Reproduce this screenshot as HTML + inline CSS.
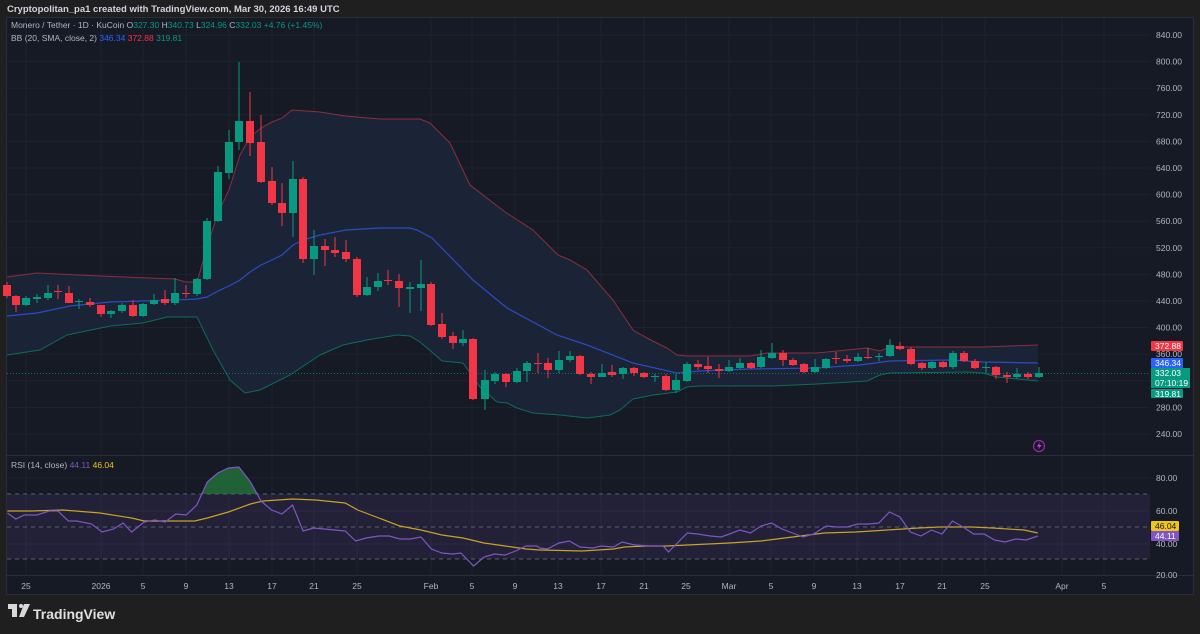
<!DOCTYPE html>
<html><head><meta charset="utf-8">
<style>
html,body{margin:0;padding:0;background:#1f1f1f;width:1200px;height:634px;overflow:hidden;font-family:"Liberation Sans",sans-serif;}
svg{position:absolute;left:0;top:0}
</style></head>
<body>
<svg id="s" width="1200" height="634" xmlns="http://www.w3.org/2000/svg"></svg>
<script>
var NS="http://www.w3.org/2000/svg";var s=document.getElementById('s');
function el(t,a,txt){var e=document.createElementNS(NS,t);for(var k in a)e.setAttribute(k,a[k]);if(txt!=null)e.textContent=txt;s.appendChild(e);return e;}
el('rect',{x:0,y:0,width:1200,height:634,fill:'#1f1f1f'});
el('text',{x:7,y:12,fill:'#d1d4dc','font-size':'9.5','font-weight':'600'},'Cryptopolitan_pa1 created with TradingView.com, Mar 30, 2026 16:49 UTC');
el('rect',{x:6.5,y:17.5,width:1187,height:577,fill:'#161a25',stroke:'#2a2e39'});
var ylab=[];for(var p=840;p>=240;p-=40){var y=35+(840-p)*0.665;ylab.push([p,y]);el('line',{x1:7,x2:1150,y1:y,y2:y,stroke:'#1f2330'});}
var dates=[[26,'25'],[101,'2026'],[143,'5'],[186,'9'],[229,'13'],[272,'17'],[314,'21'],[357,'25'],[431,'Feb'],[472,'5'],[515,'9'],[558,'13'],[601,'17'],[644,'21'],[686,'25'],[729,'Mar'],[771,'5'],[814,'9'],[857,'13'],[900,'17'],[942,'21'],[985,'25'],[1062,'Apr'],[1104,'5']];
dates.forEach(function(d){el('line',{x1:d[0],x2:d[0],y1:18,y2:575,stroke:'#1f2330'});});
[478,511,544].forEach(function(y){el('line',{x1:7,x2:1150,y1:y,y2:y,stroke:'#1f2330'});});
el('line',{x1:7,x2:1193,y1:455.5,y2:455.5,stroke:'#2a2e39'});
el('line',{x1:7,x2:1193,y1:575.5,y2:575.5,stroke:'#2a2e39'});
var up=[[7,277],[37,273],[100,276],[175,279],[186,282],[197,282],[207,247],[218,213],[229,190],[240,155],[250,137],[261,128],[272,122],[282,118],[292,110],[320,112],[345,116],[380,119],[420,119],[430,123],[450,143],[470,185],[505,212],[533,230],[558,255],[570,260],[587,270],[613,300],[633,330],[647,338],[667,348],[677,355],[687,356],[750,356],[767,353],[817,353],[867,348],[880,351],[890,347],[950,347],[983,347],[1038,345]];
var mid=[[7,316],[37,313],[70,306],[110,302],[175,300],[197,299],[207,297],[218,291],[229,286],[240,280],[250,272],[261,265],[272,260],[282,255],[293,245],[303,240],[320,235],[346,230],[380,228],[410,228],[417,230],[432,238],[473,280],[507,308],[557,335],[587,345],[633,363],[677,373],[700,371],[750,369],[817,368],[860,365],[890,361],[950,360],[983,362],[1038,363]];
var lo=[[7,355],[40,350],[67,335],[110,326],[143,323],[167,317],[197,317],[213,350],[230,380],[245,393],[260,390],[290,375],[320,355],[343,345],[367,340],[397,335],[410,336],[420,342],[433,353],[442,361],[463,363],[470,373],[480,387],[497,402],[507,403],[517,408],[533,413],[560,415],[587,418],[610,415],[620,410],[633,399],[653,395],[677,392],[687,387],[700,386],[773,386],[817,384],[867,381],[880,375],[890,373],[967,372],[983,373],[997,377],[1038,381]];
function pts(a){return a.map(function(p){return p[0]+','+p[1];}).join(' ');}
el('polygon',{points:pts(up)+' '+pts(lo.slice().reverse()),fill:'#1b2436'});
el('polyline',{points:pts(up),fill:'none',stroke:'#8c2e3e','stroke-width':1});
el('polyline',{points:pts(mid),fill:'none',stroke:'#2b4bc4','stroke-width':1.2});
el('polyline',{points:pts(lo),fill:'none',stroke:'#0d6b5c','stroke-width':1});
el('line',{x1:7,x2:1150,y1:373.5,y2:373.5,stroke:'#089981','stroke-dasharray':'1,2','stroke-opacity':'0.7'});
var C=[[7,285,296,282,298,'r'],[16,296,305,295,312,'r'],[26,298,305,296,306,'g'],[37,297,299,294,303,'g'],[48,293,298,285,300,'g'],[58,291,292,285,299,'r'],[69,293,303,286,303,'r'],[79,301,302,299,309,'g'],[90,302,305,298,307,'r'],[101,305,314,305,317,'r'],[111,311,314,310,318,'g'],[122,305,311,303,313,'g'],[133,305,316,300,317,'r'],[143,304,316,303,317,'g'],[154,300,304,294,305,'g'],[165,299,303,290,305,'r'],[175,293,303,278,305,'g'],[186,293,294,285,298,'r'],[197,279,294,278,296,'g'],[207,221,279,218,280,'g'],[218,172,221,166,222,'g'],[229,142,173,130,179,'g'],[239,121,142,62,150,'g'],[250,121,143,92,156,'r'],[261,142,182,115,183,'r'],[272,181,203,167,205,'r'],[282,203,213,183,226,'r'],[293,179,213,161,237,'g'],[303,179,259,177,263,'r'],[314,246,259,230,275,'g'],[325,246,250,239,266,'r'],[335,250,253,237,257,'r'],[346,252,259,240,262,'r'],[357,259,295,257,297,'r'],[367,287,295,277,296,'g'],[378,281,287,273,291,'g'],[388,280,281,270,285,'r'],[399,281,288,274,307,'r'],[410,287,289,282,313,'g'],[421,284,288,260,311,'g'],[431,284,325,282,326,'r'],[442,324,337,313,339,'r'],[453,336,343,332,349,'r'],[463,339,343,330,346,'g'],[473,339,399,338,400,'r'],[485,380,399,370,410,'g'],[495,374,381,372,384,'g'],[506,374,382,373,387,'r'],[517,371,382,368,383,'g'],[527,363,371,361,382,'g'],[538,363,364,353,373,'r'],[548,363,370,358,378,'r'],[559,360,370,351,373,'g'],[570,356,360,351,362,'g'],[580,356,374,355,375,'r'],[591,374,377,372,384,'r'],[602,373,377,364,377,'g'],[612,372,375,365,377,'r'],[623,368,374,367,379,'g'],[634,368,373,367,376,'r'],[644,373,377,372,378,'r'],[655,376,377,374,382,'g'],[666,376,390,374,391,'r'],[676,380,390,374,393,'g'],[687,364,381,362,382,'g'],[698,364,367,360,370,'r'],[708,366,369,357,373,'r'],[719,369,371,364,378,'r'],[729,367,371,360,372,'g'],[740,363,368,358,369,'g'],[751,363,368,362,369,'r'],[761,357,367,350,368,'g'],[772,353,358,343,359,'g'],[783,353,360,350,366,'r'],[793,360,365,358,366,'r'],[804,364,372,363,373,'r'],[815,367,372,359,373,'g'],[826,359,368,358,369,'g'],[836,358,359,352,364,'r'],[847,359,361,355,363,'r'],[858,357,361,353,362,'g'],[868,357,358,348,359,'r'],[879,356,357,353,361,'g'],[890,345,356,339,357,'g'],[900,346,349,342,350,'r'],[911,349,364,347,365,'r'],[922,363,368,362,370,'r'],[932,362,368,361,369,'g'],[943,362,367,361,368,'r'],[953,353,367,351,369,'g'],[964,353,361,351,362,'r'],[975,361,368,359,369,'r'],[986,367,368,362,373,'g'],[996,367,375,366,379,'r'],[1007,375,377,372,383,'r'],[1017,374,377,368,379,'g'],[1028,374,377,372,379,'r'],[1039,373,377,367,378,'g']];
C.forEach(function(c){var col=c[5]=='g'?'#089981':'#f23645';
el('line',{x1:c[0],x2:c[0],y1:c[3],y2:c[4],stroke:col,'stroke-width':1});
el('rect',{x:c[0]-4,y:c[1],width:8,height:Math.max(1,c[2]-c[1]),fill:col});});
el('rect',{x:7,y:494,width:1143,height:65,fill:'#7e57c2','fill-opacity':'0.12'});
[494,527,559].forEach(function(y){el('line',{x1:7,x2:1150,y1:y,y2:y,stroke:'#787b86','stroke-dasharray':'4,4','stroke-opacity':'0.7'});});
function tx6(a){return a.map(function(p){return [p[0]*1.0523,p[1]];});}
function tx7(a){return a.map(function(p){return [540+(p[0]-540)*1.0523,p[1]];});}
var r6=tx6([[7,513],[15,519],[23,515],[35,515],[47,511],[55,511],[65,521],[73,521],[87,524],[97,532],[108,529],[117,523],[125,532],[137,522],[147,520],[157,522],[167,514],[177,515],[187,505],[197,482],[207,473],[217,468],[227,467],[238,482],[248,501],[258,510],[268,514],[278,505],[288,531],[298,528],[308,529],[318,530],[328,531],[338,541],[348,538],[360,536],[370,536],[380,539],[390,539],[400,537],[410,549],[420,553],[430,554],[438,553],[450,566],[460,557],[470,554],[480,555],[490,551],[500,546],[510,546]]);
var r7=tx7([[540,548],[547,549],[558,543],[568,541],[578,547],[590,548],[598,546],[610,547],[618,542],[630,545],[645,546],[657,546],[662,552],[680,533],[690,534],[702,536],[712,537],[720,534],[730,530],[740,533],[750,526],[760,523],[770,529],[780,533],[790,537],[800,534],[812,526],[822,527],[832,527],[842,524],[852,524],[862,523],[872,512],[882,517],[892,532],[902,536],[912,530],[922,534],[932,521],[942,527],[952,534],[962,534],[972,540],[982,542],[992,539],[1002,540],[1013,536]]);
var rsi=r6.concat(r7);
var y6=tx6([[7,511],[30,511],[60,510],[95,513],[125,518],[137,521],[147,521],[185,521],[197,518],[217,512],[238,504],[250,501],[278,499],[300,500],[328,503],[340,510],[360,518],[380,526],[400,530],[420,535],[440,538],[460,543],[480,546],[500,549],[513,550]]);
var y7=tx7([[540,550],[580,551],[610,549],[620,547],[640,546],[660,546],[700,544],[720,543],[750,541],[780,537],[810,533],[840,532],[870,530],[900,528],[920,527],[950,527],[970,528],[1000,530],[1013,533]]);
var ma=y6.concat(y7);
var ob=rsi.filter(function(p){return p[0]>=195&&p[0]<=263;});
el('polygon',{points:'202,494 '+pts(ob.filter(function(p){return p[1]<494;}))+' 258,494',fill:'#26803d','fill-opacity':'0.7'});
el('polyline',{points:pts(ma),fill:'none',stroke:'#c9a227','stroke-width':1.2});
el('polyline',{points:pts(rsi),fill:'none',stroke:'#7e57c2','stroke-width':1.2});
ylab.forEach(function(l){el('text',{x:1156,y:l[1]+3,fill:'#b2b5be','font-size':'8.5'},l[0].toFixed(2));});
[[80,478],[60,511],[40,544],[20,575]].forEach(function(l){el('text',{x:1156,y:l[1]+3,fill:'#b2b5be','font-size':'8.5'},l[0].toFixed(2));});
dates.forEach(function(d){el('text',{x:d[0],y:589,fill:'#b2b5be','font-size':'8.5','text-anchor':'middle'},d[1]);});
function tag(y,h,w,col,t,tc){el('rect',{x:1151,y:y,width:w,height:h,fill:col,rx:1});el('text',{x:1155,y:y+8,fill:tc||'#fff','font-size':'8.5'},t);}
tag(341,10,32,'#f23645','372.88');
tag(358,10,32,'#2962ff','346.34');
el('rect',{x:1151,y:368,width:39,height:20,fill:'#089981'});
el('text',{x:1155,y:376,fill:'#fff','font-size':'8.5'},'332.03');
el('text',{x:1155,y:386,fill:'#fff','font-size':'8.5'},'07:10:19');
tag(389,9,32,'#089981','319.81');
tag(521,10,28,'#f0c419','46.04','#131722');
tag(531,10,28,'#7e57c2','44.11');
var t=el('text',{x:11,y:28,'font-size':'8.5',fill:'#b2b5be'});
function sp(p,txt,c){var e=document.createElementNS(NS,'tspan');e.setAttribute('fill',c);e.textContent=txt;p.appendChild(e);}
sp(t,'Monero / Tether · 1D · KuCoin  ','#b2b5be');sp(t,'O','#b2b5be');sp(t,'327.30  ','#089981');sp(t,'H','#b2b5be');sp(t,'340.73  ','#089981');sp(t,'L','#b2b5be');sp(t,'324.96  ','#089981');sp(t,'C','#b2b5be');sp(t,'332.03  ','#089981');sp(t,'+4.76 (+1.45%)','#089981');
var t2=el('text',{x:11,y:41,'font-size':'8.5',fill:'#b2b5be'});
sp(t2,'BB (20, SMA, close, 2)  ','#b2b5be');sp(t2,'346.34  ','#2962ff');sp(t2,'372.88  ','#f23645');sp(t2,'319.81','#089981');
var t3=el('text',{x:11,y:468,'font-size':'8.5',fill:'#b2b5be'});
sp(t3,'RSI (14, close)  ','#b2b5be');sp(t3,'44.11  ','#7e57c2');sp(t3,'46.04','#f0c419');
el('circle',{cx:1039,cy:446,r:5.5,fill:'none',stroke:'#9c27b0','stroke-width':1.2});
el('path',{d:'M1040 442 L1037 446.5 L1039.5 446.5 L1038 450 L1041.5 445 L1039 445 Z',fill:'#e040fb'});
el('path',{d:'M8 604 h9 v13 h-5 v-8 h-4 z',fill:'#d9d9d9'});
el('circle',{cx:21,cy:606,r:2,fill:'#d9d9d9'});
el('path',{d:'M24 604 h6 l-6 13 h-5 z',fill:'#d9d9d9'});
el('text',{x:33,y:619,fill:'#e0e0e0','font-size':'14','font-weight':'bold'},'TradingView');
</script>
</body></html>
